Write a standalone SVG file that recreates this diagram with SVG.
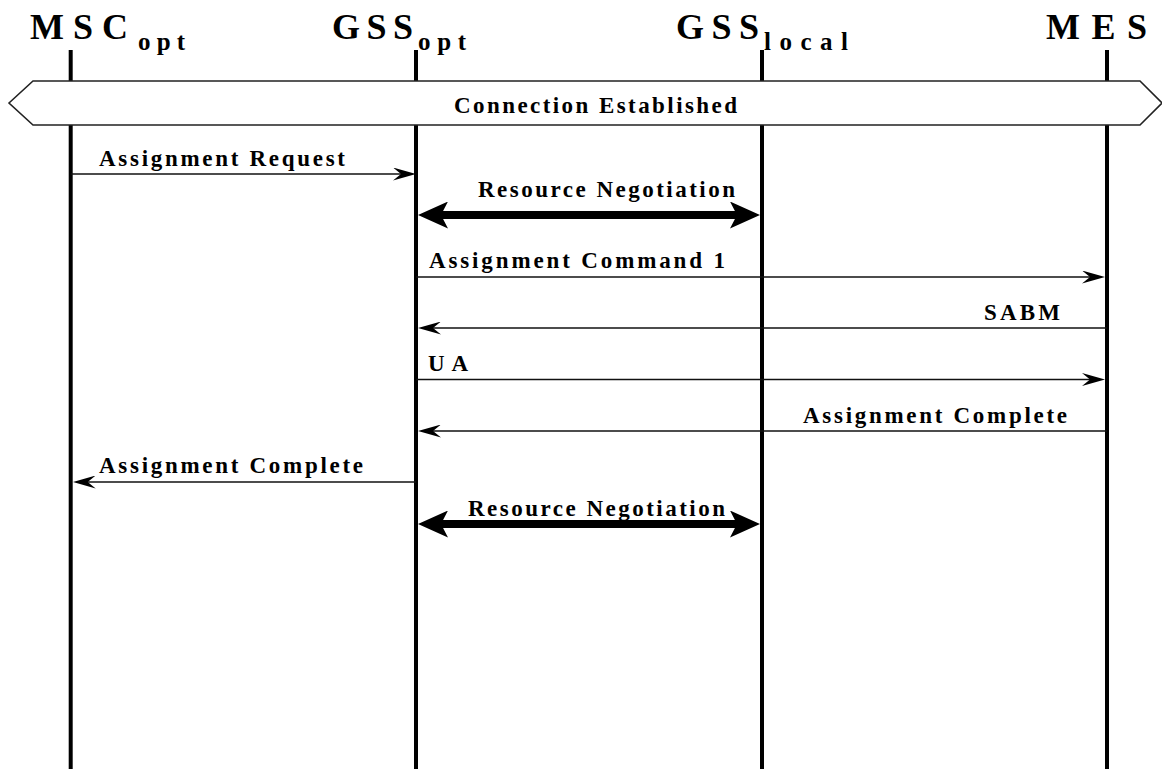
<svg xmlns="http://www.w3.org/2000/svg" width="1162" height="769" viewBox="0 0 1162 769">
<style>
.hd{font-family:"Liberation Serif","Times New Roman",serif;font-weight:bold;font-size:36px;fill:#000}
.sub{font-family:"Liberation Serif","Times New Roman",serif;font-weight:bold;font-size:25px;fill:#000}
.lb{font-family:"Liberation Serif","Times New Roman",serif;font-weight:bold;font-size:23px;fill:#000}
.life{stroke:#000;stroke-width:4;fill:none}
.msg{stroke:#111;stroke-width:1.6;fill:none;marker-end:url(#arr)}
.big{stroke:#000;stroke-width:8;fill:none;marker-start:url(#bigh);marker-end:url(#bigh)}
.banner{fill:#fff;stroke:#222;stroke-width:1.6}
</style>
<defs>
<marker id="arr" viewBox="0 0 23 13" refX="10" refY="6.5" markerWidth="23" markerHeight="13" markerUnits="userSpaceOnUse" orient="auto">
<path d="M0,0 L23,6.5 L0,13 L8,6.5 Z" fill="#000"/>
</marker>
<marker id="bigh" viewBox="0 0 30 27" refX="10" refY="13.5" markerWidth="30" markerHeight="27" markerUnits="userSpaceOnUse" orient="auto-start-reverse">
<path d="M0,0 L30,13.5 L0,27 L7,13.5 Z" fill="#000"/>
</marker>
</defs>
<rect width="1162" height="769" fill="#fff"/>

<g id="MSC_opt">
<line class="life" x1="70.7" y1="50" x2="70.7" y2="769"/>
<text class="hd" x="30" y="39" textLength="98" lengthAdjust="spacing">MSC</text>
<text class="sub" x="138" y="50" textLength="47" lengthAdjust="spacing">opt</text>
</g>
<g id="GSS_opt">
<line class="life" x1="416" y1="50" x2="416" y2="769"/>
<text class="hd" x="332" y="39" textLength="81" lengthAdjust="spacing">GSS</text>
<text class="sub" x="418" y="50" textLength="48" lengthAdjust="spacing">opt</text>
</g>
<g id="GSS_local">
<line class="life" x1="762" y1="50" x2="762" y2="769"/>
<text class="hd" x="676" y="39" textLength="83" lengthAdjust="spacing">GSS</text>
<text class="sub" x="764" y="50" textLength="84" lengthAdjust="spacing">local</text>
</g>
<g id="MES">
<line class="life" x1="1107" y1="50" x2="1107" y2="769"/>
<text class="hd" x="1046" y="39" textLength="101" lengthAdjust="spacing">MES</text>
</g>

<g id="connection_established">
<polygon class="banner" points="9,103 33,81 1140,81 1162,103 1140,125 33,125"/>
<text class="lb" x="454" y="113" textLength="283" lengthAdjust="spacing">Connection Established</text>
</g>

<g id="connectors">
<line class="msg" x1="70.7" y1="174" x2="403" y2="174"/>
<text class="lb" x="99" y="166" textLength="246" lengthAdjust="spacing">Assignment Request</text>

<line class="big" x1="438" y1="215" x2="740" y2="215"/>
<text class="lb" x="478" y="197" textLength="257" lengthAdjust="spacing">Resource Negotiation</text>

<line class="msg" x1="416" y1="277" x2="1092" y2="277"/>
<text class="lb" x="429" y="268" textLength="296" lengthAdjust="spacing">Assignment Command 1</text>

<line class="msg" x1="1107" y1="328" x2="431" y2="328"/>
<text class="lb" x="984" y="320" textLength="76" lengthAdjust="spacing">SABM</text>

<line class="msg" x1="416" y1="379.5" x2="1092" y2="379.5"/>
<text class="lb" x="428" y="371" textLength="40" lengthAdjust="spacing">UA</text>

<line class="msg" x1="1107" y1="431" x2="431" y2="431"/>
<text class="lb" x="803" y="423" textLength="264" lengthAdjust="spacing">Assignment Complete</text>

<line class="msg" x1="416" y1="482" x2="85.7" y2="482"/>
<text class="lb" x="99" y="473" textLength="264" lengthAdjust="spacing">Assignment Complete</text>

<line class="big" x1="438" y1="524" x2="740" y2="524"/>
<text class="lb" x="468" y="516" textLength="257" lengthAdjust="spacing">Resource Negotiation</text>
</g>
</svg>
